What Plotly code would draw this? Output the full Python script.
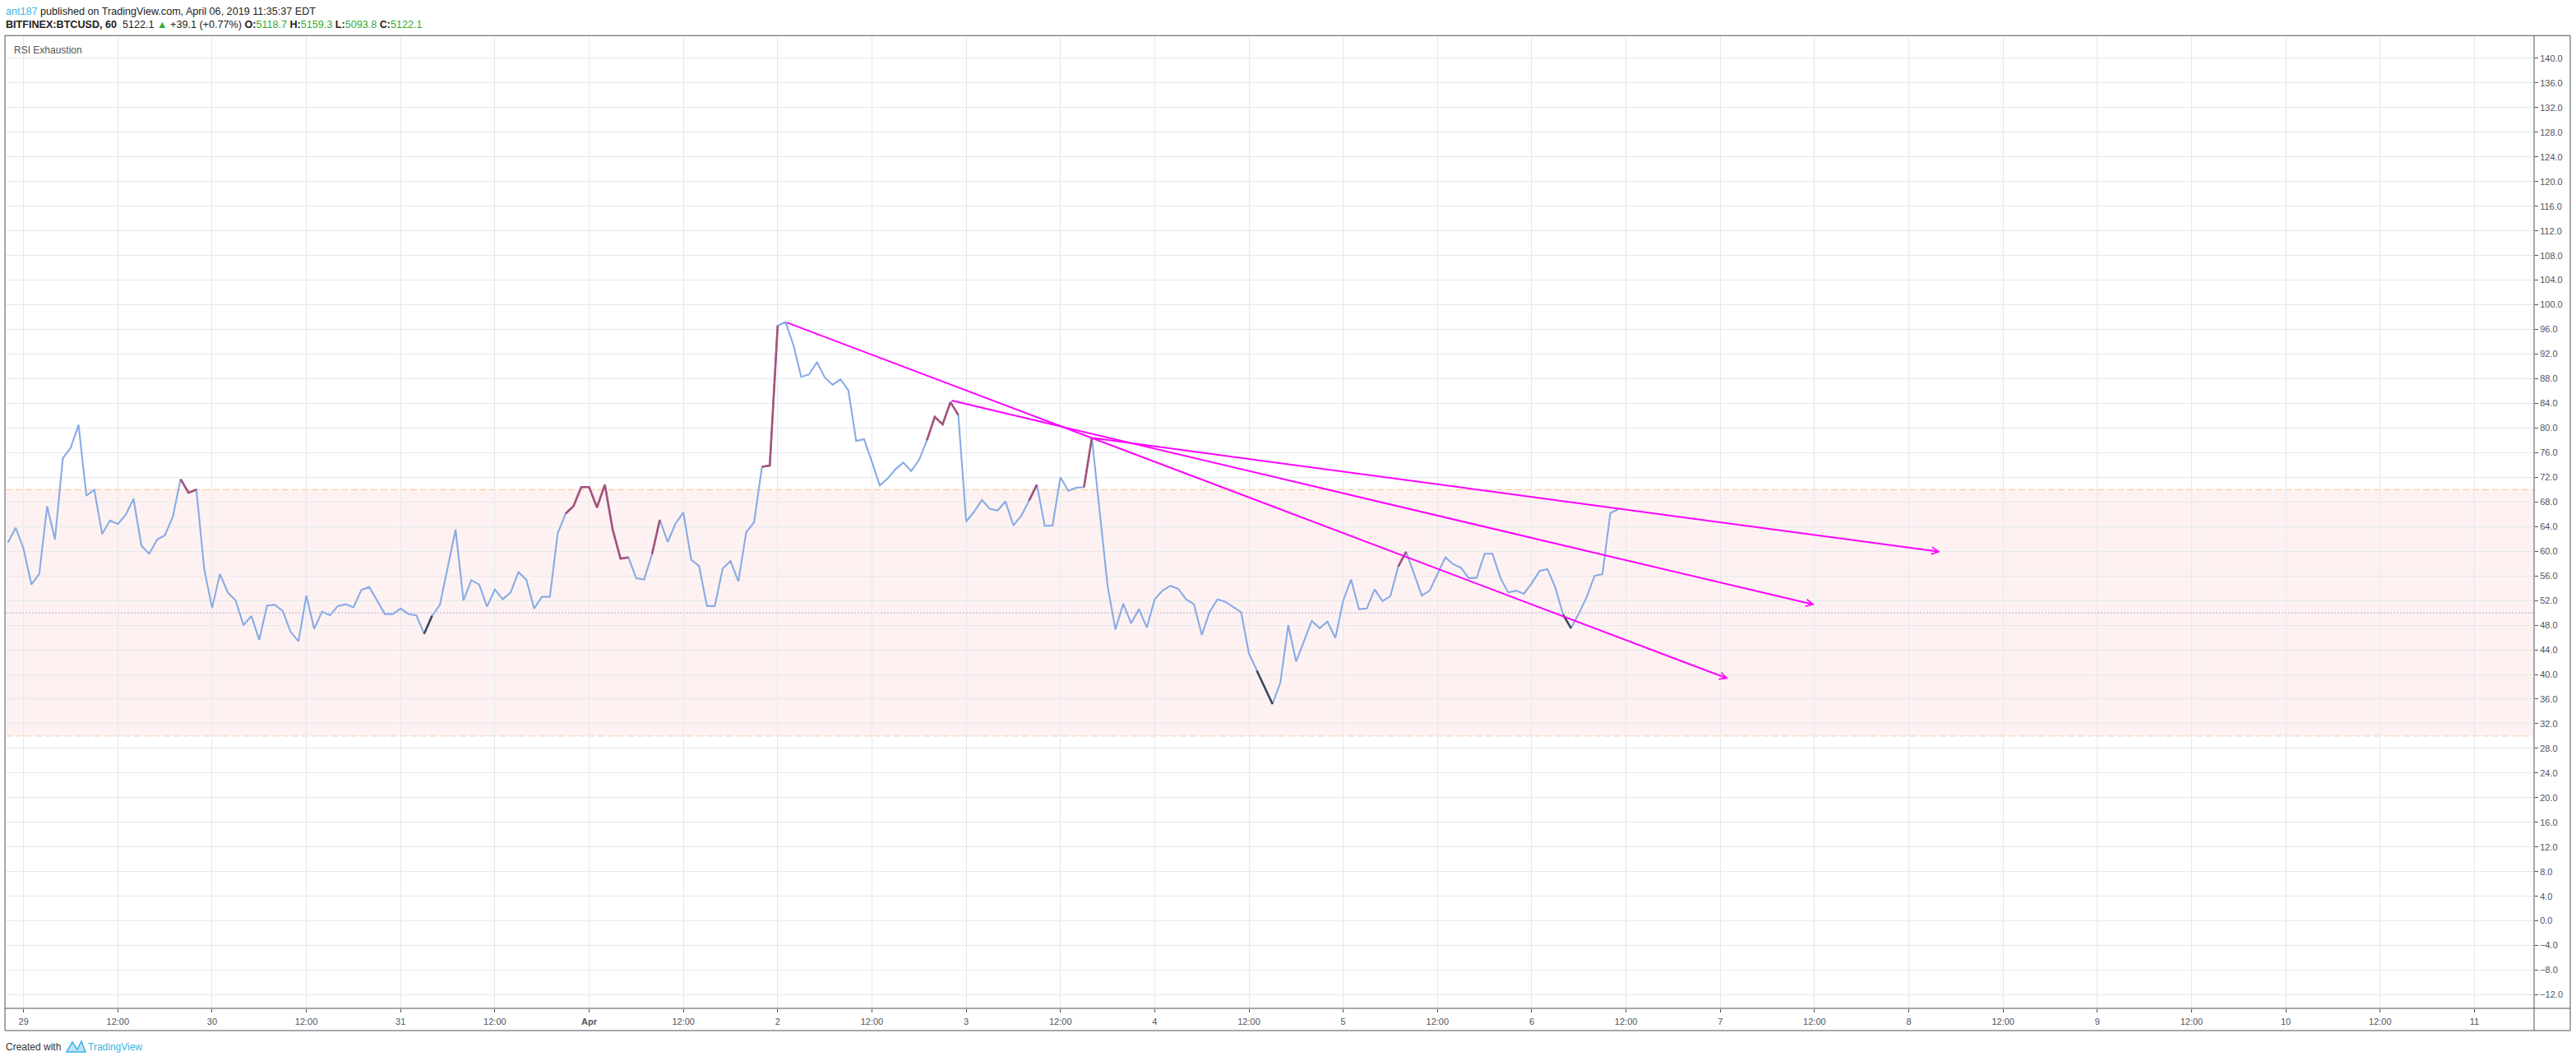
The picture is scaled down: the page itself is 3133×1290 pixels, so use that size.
import plotly.graph_objects as go
import pandas as pd

# ---------------- data ----------------
series_start = "2019-03-28 22:00"
rsi_values = [
    61.4, 63.8,
    # Mar 29
    60.4, 54.6, 56.3, 67.3, 61.9, 75.1, 76.8, 80.5, 69.0, 70.0, 62.8, 65.0,
    64.4, 65.9, 68.5, 60.9, 59.6, 61.9, 62.6, 65.6, 71.7, 69.5, 70.0, 57.1,
    # Mar 30
    50.8, 56.3, 53.3, 52.0, 48.0, 49.5, 45.6, 51.2, 51.3, 50.3, 46.9, 45.4,
    52.8, 47.4, 50.2, 49.6, 51.1, 51.4, 50.9, 53.7, 54.2, 52.0, 49.8, 49.8,
    # Mar 31
    50.7, 49.8, 49.6, 46.6, 49.5, 51.3, 57.5, 63.5, 52.0, 55.3, 54.6, 51.0,
    53.8, 52.2, 53.3, 56.6, 55.4, 50.7, 52.6, 52.6, 62.9, 66.1, 67.3, 70.4,
    # Apr 1
    70.4, 67.1, 70.8, 63.5, 58.8, 59.0, 55.6, 55.4, 59.5, 65.1, 61.5, 64.5,
    66.3, 58.6, 57.6, 51.1, 51.1, 57.2, 58.4, 55.1, 63.1, 64.7, 73.7, 73.9,
    # Apr 2
    96.6, 97.2, 93.5, 88.3, 88.7, 90.7, 88.2, 87.0, 87.9, 86.1, 77.9, 78.2,
    74.5, 70.7, 71.8, 73.3, 74.4, 73.0, 74.8, 78.0, 81.8, 80.6, 84.2, 82.1,
    # Apr 3
    64.8, 66.4, 68.3, 66.9, 66.6, 68.1, 64.2, 65.7, 68.2, 70.8, 64.1, 64.2,
    72.0, 69.8, 70.3, 70.4, 78.4, 66.4, 54.4, 47.3, 51.5, 48.3, 50.6, 47.6,
    # Apr 4
    52.2, 53.6, 54.4, 53.9, 52.2, 51.4, 46.4, 50.2, 52.2, 51.8, 50.9, 50.1,
    43.4, 40.6, 37.9, 35.2, 38.7, 48.0, 42.1, 45.5, 48.7, 47.5, 48.6, 45.9,
    # Apr 5
    52.0, 55.4, 50.6, 50.7, 53.8, 51.9, 52.7, 57.5, 59.9, 56.4, 52.8, 53.6,
    56.3, 59.0, 57.9, 57.3, 55.6, 55.7, 59.6, 59.6, 55.7, 53.3, 53.6, 53.1,
    # Apr 6
    54.8, 56.8, 57.1, 54.1, 49.7, 47.5, 49.9, 52.6, 56.0, 56.3, 66.2, 66.8,
]

# exhaustion-coloured stretches of the RSI line (start, end)
up_exhaustion = [
    ("2019-03-29 20:00", "2019-03-29 22:00"),
    ("2019-03-31 21:00", "2019-04-01 05:00"),
    ("2019-04-01 08:00", "2019-04-01 09:00"),
    ("2019-04-01 22:00", "2019-04-02 00:00"),
    ("2019-04-02 19:00", "2019-04-02 23:00"),
    ("2019-04-03 08:00", "2019-04-03 09:00"),
    ("2019-04-03 15:00", "2019-04-03 16:00"),
    ("2019-04-05 07:00", "2019-04-05 08:00"),
]
down_exhaustion = [
    ("2019-03-31 03:00", "2019-03-31 04:00"),
    ("2019-04-04 13:00", "2019-04-04 15:00"),
    ("2019-04-06 04:00", "2019-04-06 05:00"),
]

# drawn trend lines (start -> arrow tip)
trend_start_time = ["2019-04-02 01:00", "2019-04-02 22:00", "2019-04-03 16:00"]
trend_start_value = [97.2, 84.5, 78.4]
trend_end_time = ["2019-04-07 01:00", "2019-04-07 12:00", "2019-04-08 04:00"]
trend_end_value = [39.3, 51.3, 59.9]

band_upper, band_mid, band_lower = 70, 50, 30

x_tick_times = pd.date_range("2019-03-29 00:00", "2019-04-11 00:00", freq="12h")
day_labels = {pd.Timestamp("2019-04-01"): "<b>Apr</b>"}
x_tick_labels = [
    ("12:00" if t.hour == 12 else day_labels.get(t, str(t.day))) for t in x_tick_times
]
y_tick_values = list(range(-12, 141, 4))
y_tick_labels = [f"{v:.1f}".replace("-", "\u2212") for v in y_tick_values]

x_range = ["2019-03-28 21:44", "2019-04-11 07:36"]
y_range = [-14.2, 143.6]

# ---------------- styling ----------------
W, H = 3133, 1290
L, R, T, B = 7, 51, 44, 64
PW, PH = W - L - R, H - T - B
BLUE = "#88abe6"
MAROON = "#a5527c"
DARK = "#414859"
MAGENTA = "#ff00ff"
GRID = "#e3e9ef"
AXTXT = "#50535e"
FONT = "Liberation Sans, Arial, sans-serif"


def px(x):
    return (x - L) / PW


def py(y):
    return (H - B - y) / PH


times = pd.date_range(series_start, periods=len(rsi_values), freq="h")
s = pd.Series(rsi_values, index=times)


def segment_xy(segments):
    xs, ys = [], []
    for a, b in segments:
        part = s.loc[pd.Timestamp(a):pd.Timestamp(b)]
        xs += list(part.index) + [None]
        ys += list(part.values) + [None]
    return xs, ys


fig = go.Figure()
fig.add_trace(go.Scatter(x=times, y=rsi_values, mode="lines",
                         line=dict(color=BLUE, width=2.1), hoverinfo="skip"))
ux, uy = segment_xy(up_exhaustion)
fig.add_trace(go.Scatter(x=ux, y=uy, mode="lines",
                         line=dict(color=MAROON, width=2.6), hoverinfo="skip"))
dx, dy = segment_xy(down_exhaustion)
fig.add_trace(go.Scatter(x=dx, y=dy, mode="lines",
                         line=dict(color=DARK, width=2.6), hoverinfo="skip"))

shapes = [
    dict(type="rect", xref="paper", yref="y", x0=0, x1=1, y0=band_lower, y1=band_upper,
         fillcolor="#fdf2f1", line=dict(width=0), layer="below"),
    dict(type="line", xref="paper", yref="y", x0=0, x1=1, y0=band_upper, y1=band_upper,
         line=dict(color="#ffbd82", width=1, dash="8px,4px"), layer="between"),
    dict(type="line", xref="paper", yref="y", x0=0, x1=1, y0=band_lower, y1=band_lower,
         line=dict(color="#f6cfae", width=1, dash="8px,4px"), layer="between"),
    dict(type="line", xref="paper", yref="y", x0=0, x1=1, y0=band_mid, y1=band_mid,
         line=dict(color="#b9a2dc", width=1, dash="2px,2px"), layer="between"),
    # frame
    dict(type="rect", xref="paper", yref="paper", x0=px(6), x1=px(3126), y0=py(1253), y1=py(43.3),
         line=dict(color=AXTXT, width=1), layer="above"),
    dict(type="line", xref="paper", yref="paper", x0=px(3082), x1=px(3082), y0=py(1253), y1=py(43.3),
         line=dict(color=AXTXT, width=1), layer="above"),
    dict(type="line", xref="paper", yref="paper", x0=px(6), x1=px(3126), y0=py(1226), y1=py(1226),
         line=dict(color=AXTXT, width=1), layer="above"),
    # TradingView logo
    dict(type="path", xref="paper", yref="paper",
         path=(f"M{px(81)},{py(1279)} L{px(88)},{py(1267)} L{px(94)},{py(1276)} "
               f"L{px(99)},{py(1266)} L{px(104)},{py(1279)} Z"),
         fillcolor="rgba(59,179,228,0.35)", line=dict(color="#3bb3e4", width=1.5), layer="above"),
]

annotations = []
for t0, v0, t1, v1 in zip(trend_start_time, trend_start_value, trend_end_time, trend_end_value):
    annotations.append(dict(x=t1, y=v1, ax=t0, ay=v0, xref="x", yref="y", axref="x", ayref="y",
                            text="", showarrow=True, arrowhead=5, arrowsize=0.85, arrowwidth=2,
                            arrowcolor=MAGENTA, standoff=0, startstandoff=0))

green = "#2faa2f"
header1 = ("<span style='color:#3bb3e4'>ant187</span> published on TradingView.com, "
           "April 06, 2019 11:35:37 EDT")
header2 = ("<b>BITFINEX:BTCUSD, 60</b>\u00a0 5122.1 <span style='color:%s'>\u25b2</span>"
           " +39.1 (+0.77%%) <b>O:</b><span style='color:%s'>5118.7</span>"
           " <b>H:</b><span style='color:%s'>5159.3</span>"
           " <b>L:</b><span style='color:%s'>5093.8</span>"
           " <b>C:</b><span style='color:%s'>5122.1</span>") % (green, green, green, green, green)
annotations += [
    dict(xref="paper", yref="paper", x=px(5), y=py(13.5), text=header1, showarrow=False,
         xanchor="left", yanchor="middle", font=dict(family=FONT, size=12.6, color="#222222")),
    dict(xref="paper", yref="paper", x=px(5), y=py(29.5), text=header2, showarrow=False,
         xanchor="left", yanchor="middle", font=dict(family=FONT, size=12.6, color="#222222")),
    dict(xref="paper", yref="paper", x=px(15), y=py(61), text="RSI Exhaustion", showarrow=False,
         xanchor="left", yanchor="middle", font=dict(family=FONT, size=12, color="#555555")),
    dict(xref="paper", yref="paper", x=px(5), y=py(1273), text="Created with", showarrow=False,
         xanchor="left", yanchor="middle", font=dict(family=FONT, size=12, color="#333333")),
    dict(xref="paper", yref="paper", x=px(105), y=py(1273), text="TradingView", showarrow=False,
         xanchor="left", yanchor="middle", font=dict(family=FONT, size=12, color="#3bb3e4")),
]

fig.update_layout(
    width=W, height=H,
    margin=dict(l=L, r=R, t=T, b=B, pad=0),
    paper_bgcolor="white", plot_bgcolor="white",
    showlegend=False,
    hovermode=False,
    shapes=shapes,
    annotations=annotations,
    xaxis=dict(type="date", range=x_range, tickmode="array", tickvals=list(x_tick_times),
               ticktext=x_tick_labels, showgrid=True, gridcolor=GRID, gridwidth=1,
               zeroline=False, showline=False, ticks="outside", ticklen=4, tickcolor=AXTXT,
               tickfont=dict(family=FONT, size=11, color=AXTXT), ticklabelstandoff=2,
               fixedrange=True),
    yaxis=dict(range=y_range, side="right", tickmode="array", tickvals=y_tick_values,
               ticktext=y_tick_labels, showgrid=True, gridcolor=GRID, gridwidth=1,
               zeroline=False, showline=False, ticks="outside", ticklen=4, tickcolor=AXTXT,
               tickfont=dict(family=FONT, size=11, color=AXTXT), fixedrange=True),
)

fig.write_html(
    "out.html",
    config={"displayModeBar": False, "staticPlot": True},
    post_script="document.body.style.margin='0';document.body.style.overflow='hidden';",
)
